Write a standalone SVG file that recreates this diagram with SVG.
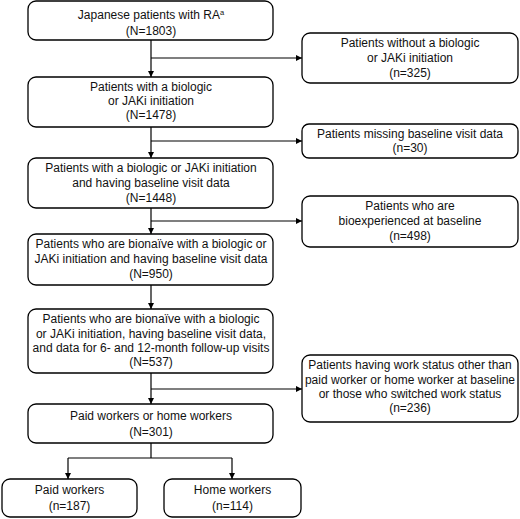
<svg xmlns="http://www.w3.org/2000/svg" width="520" height="519" viewBox="0 0 520 519">
<style>
.box{fill:#fff;stroke:#000;stroke-width:1.3}
.t{font-family:"Liberation Sans",Arial,sans-serif;font-size:12px;fill:#111;text-anchor:middle}
.c{fill:none;stroke:#000;stroke-width:1.2}
</style>
<defs>
<marker id="ah" viewBox="0 0 10 10" refX="10" refY="5" markerWidth="6" markerHeight="6" orient="auto" markerUnits="userSpaceOnUse">
<path d="M0,0 L10,5 L0,10 z" fill="#000"/>
</marker>
</defs>
<rect width="520" height="519" fill="#fff"/>
<g id="connectors">
<path class="c" d="M151,40 V77" marker-end="url(#ah)"/>
<path class="c" d="M151,58 H302" marker-end="url(#ah)"/>
<path class="c" d="M151,127 V158" marker-end="url(#ah)"/>
<path class="c" d="M151,141 H302" marker-end="url(#ah)"/>
<path class="c" d="M151,208 V234" marker-end="url(#ah)"/>
<path class="c" d="M151,221 H302" marker-end="url(#ah)"/>
<path class="c" d="M151,285 V309" marker-end="url(#ah)"/>
<path class="c" d="M151,373 V404" marker-end="url(#ah)"/>
<path class="c" d="M151,389 H302" marker-end="url(#ah)"/>
<path class="c" d="M151,443 V458"/>
<path class="c" d="M68,458 H232"/>
<path class="c" d="M68,458 V479" marker-end="url(#ah)"/>
<path class="c" d="M232,458 V479" marker-end="url(#ah)"/>
</g>
<g id="n1">
<rect class="box" x="28" y="1" width="245" height="39" rx="8"/>
<text class="t" x="151" y="19">Japanese patients with RA<tspan font-size="7.5" dy="-4.5">a</tspan></text>
<text class="t" x="151" y="34.5">(N=1803)</text>
</g>
<g id="n2">
<rect class="box" x="28" y="77" width="245" height="50" rx="8"/>
<text class="t" x="151" y="91">Patients with a biologic</text>
<text class="t" x="151" y="105">or JAKi initiation</text>
<text class="t" x="151" y="119">(N=1478)</text>
</g>
<g id="n3">
<rect class="box" x="28" y="158" width="245" height="50" rx="8"/>
<text class="t" x="151" y="172">Patients with a biologic or JAKi initiation</text>
<text class="t" x="151" y="187">and having baseline visit data</text>
<text class="t" x="151" y="202">(N=1448)</text>
</g>
<g id="n4">
<rect class="box" x="28" y="234" width="245" height="51" rx="8"/>
<text class="t" x="151" y="247.5">Patients who are bionaïve with a biologic or</text>
<text class="t" x="151" y="263">JAKi initiation and having baseline visit data</text>
<text class="t" x="151" y="277.5">(N=950)</text>
</g>
<g id="n5">
<rect class="box" x="28" y="309" width="245" height="64" rx="8"/>
<text class="t" x="151" y="323">Patients who are bionaïve with a biologic</text>
<text class="t" x="151" y="337.5">or JAKi initiation, having baseline visit data,</text>
<text class="t" x="151" y="351.5">and data for 6- and 12-month follow-up visits</text>
<text class="t" x="151" y="366">(N=537)</text>
</g>
<g id="n6">
<rect class="box" x="28" y="404" width="245" height="39" rx="8"/>
<text class="t" x="151" y="420">Paid workers or home workers</text>
<text class="t" x="151" y="436">(N=301)</text>
</g>
<g id="n7">
<rect class="box" x="2" y="479" width="135" height="38" rx="8"/>
<text class="t" x="69.5" y="494">Paid workers</text>
<text class="t" x="69.5" y="509.5">(n=187)</text>
</g>
<g id="n8">
<rect class="box" x="164" y="479" width="137" height="38" rx="8"/>
<text class="t" x="232.5" y="494">Home workers</text>
<text class="t" x="232.5" y="509.5">(n=114)</text>
</g>
<g id="r1">
<rect class="box" x="302" y="33" width="216" height="50" rx="8"/>
<text class="t" x="410" y="47">Patients without a biologic</text>
<text class="t" x="410" y="62">or JAKi initiation</text>
<text class="t" x="410" y="77">(n=325)</text>
</g>
<g id="r2">
<rect class="box" x="302" y="124" width="216" height="34" rx="7"/>
<text class="t" x="410" y="138">Patients missing baseline visit data</text>
<text class="t" x="410" y="152">(n=30)</text>
</g>
<g id="r3">
<rect class="box" x="302" y="196" width="216" height="51" rx="8"/>
<text class="t" x="410" y="209.5">Patients who are</text>
<text class="t" x="410" y="225">bioexperienced at baseline</text>
<text class="t" x="410" y="240">(n=498)</text>
</g>
<g id="r4">
<rect class="box" x="302" y="355" width="216" height="67" rx="8"/>
<text class="t" x="410" y="369">Patients having work status other than</text>
<text class="t" x="410" y="383.5">paid worker or home worker at baseline</text>
<text class="t" x="410" y="397.5">or those who switched work status</text>
<text class="t" x="410" y="412">(n=236)</text>
</g>
</svg>
